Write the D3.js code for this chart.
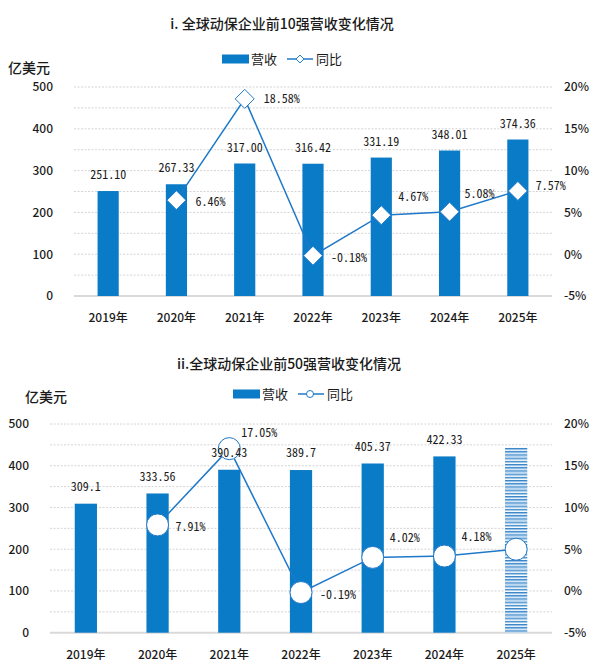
<!DOCTYPE html>
<html><head><meta charset="utf-8">
<script src="https://cdn.jsdelivr.net/npm/d3@7"></script>
<style>
html,body{margin:0;padding:0;background:#fff;}
svg{display:block;}
</style></head>
<body>
<svg id="c" width="600" height="665"></svg>
<script>
// ---- data ----
const years = ["2019年","2020年","2021年","2022年","2023年","2024年","2025年"];
const leftTicks = [0,100,200,300,400,500];
const gridTicks = [0,50,100,150,200,250,300,350,400,450,500];
const rightTicks = [-5,0,5,10,15,20];

const top10Revenue = [251.10, 267.33, 317.00, 316.42, 331.19, 348.01, 374.36];
const top10RevenueLabels = ["251.10","267.33","317.00","316.42","331.19","348.01","374.36"];
const top10Growth = [null, 6.46, 18.58, -0.18, 4.67, 5.08, 7.57];
const top10GrowthLabels = ["", "6.46%", "18.58%", "-0.18%", "4.67%", "5.08%", "7.57%"];

const top50Revenue = [309.1, 333.56, 390.43, 389.7, 405.37, 422.33, 444];
const top50RevenueLabels = ["309.1","333.56","390.43","389.7","405.37","422.33",""];
const top50Growth = [null, 7.91, 17.05, -0.19, 4.02, 4.18, 5.0];
const top50GrowthLabels = ["", "7.91%", "17.05%", "-0.19%", "4.02%", "4.18%", ""];
const top50Forecast = [false,false,false,false,false,false,true];

// label nudges (layout only)
const top10GrowthNudge = [[0,0],[19,2],[19,0],[18,2],[17,-18],[15,-18],[18,-5]];
const top50GrowthNudge = [[0,0],[18,2],[12,-16],[19,2],[17,-20],[17,-19],[0,0]];

const BLUE = "#0a7bc7";
const LINE = "#1f78c8";
const TXT = "#1a1a1a";
const CJK = "'Noto Sans CJK SC','Noto Sans',sans-serif";
const MONO = "'Noto Sans Mono CJK SC','DejaVu Sans Mono',monospace";

const svg = d3.select("#c");
const defs = svg.append("defs");
const pat = defs.append("pattern").attr("id","stripe").attr("patternUnits","userSpaceOnUse")
  .attr("width",10).attr("height",3.2);
pat.append("rect").attr("width",10).attr("height",3.2).attr("fill","#ffffff");
pat.append("rect").attr("width",10).attr("height",1.3).attr("fill","#2f80c6");
pat.append("rect").attr("y",1.3).attr("width",10).attr("height",1.0).attr("fill","#a8cdec");

function drawChart(o){
  const g = svg.append("g");
  const x = d3.scaleBand().domain(years).range([o.left,o.right]).paddingInner(0.69).paddingOuter(0.345);
  const y = d3.scaleLinear().domain([0,500]).range([o.bottom,o.top]);
  const y2 = d3.scaleLinear().domain([-5,20]).range([o.bottom,o.top]);
  const cx = d => x(d)+x.bandwidth()/2;

  // title
  g.append("text").attr("x",o.titleX).attr("y",o.titleY).attr("dy","0.35em")
    .attr("text-anchor","middle").attr("font-family",CJK).attr("font-size",14).attr("font-weight",500)
    .attr("fill",TXT).text(o.title);
  // unit
  g.append("text").attr("x",o.unitX).attr("y",o.unitY).attr("dy","0.35em")
    .attr("font-family",CJK).attr("font-size",14).attr("font-weight",500).attr("fill",TXT).text("亿美元");

  // legend
  const lg = g.append("g");
  lg.append("rect").attr("x",o.legX).attr("y",o.legY-4.5).attr("width",27).attr("height",9).attr("fill",BLUE);
  lg.append("text").attr("x",o.legX+29).attr("y",o.legY).attr("dy","0.35em").attr("font-family",CJK)
    .attr("font-size",13).attr("fill",TXT).text("营收");
  const lx = o.legX+65;
  lg.append("line").attr("x1",lx).attr("x2",lx+26).attr("y1",o.legY).attr("y2",o.legY)
    .attr("stroke",LINE).attr("stroke-width",1.5);
  if(o.marker==="diamond"){
    lg.append("path").attr("d",d3.symbol(d3.symbolDiamond2, 40)()).attr("transform",`translate(${lx+13},${o.legY})`)
      .attr("fill","#fff").attr("stroke",LINE).attr("stroke-width",1);
  } else {
    lg.append("circle").attr("cx",lx+12).attr("cy",o.legY).attr("r",3.5).attr("fill","#fff").attr("stroke",LINE).attr("stroke-width",1);
  }
  lg.append("text").attr("x",lx+29).attr("y",o.legY).attr("dy","0.35em").attr("font-family",CJK)
    .attr("font-size",13).attr("fill",TXT).text("同比");

  // grid
  g.append("g").selectAll("line").data(gridTicks.filter(v=>v>0)).join("line")
    .attr("x1",o.gridLeft).attr("x2",o.right).attr("y1",d=>y(d)).attr("y2",d=>y(d))
    .attr("stroke","#d4d4d4").attr("stroke-width",1).attr("stroke-dasharray","2,1.5");
  g.append("line").attr("x1",o.gridLeft).attr("x2",o.right).attr("y1",y(0)).attr("y2",y(0))
    .attr("stroke","#d9d9d9").attr("stroke-width",2);

  // left axis
  const ax = g.append("g").attr("transform",`translate(${o.leftLabelX},0)`)
    .call(d3.axisLeft(y).tickValues(leftTicks).tickSize(0).tickPadding(0).tickFormat(d3.format("d")));
  ax.select(".domain").remove();
  ax.selectAll("text").attr("font-family",CJK).attr("font-size",12).attr("font-weight",500).attr("fill",TXT);
  // right axis
  const ax2 = g.append("g").attr("transform",`translate(${o.rightLabelX},0)`)
    .call(d3.axisRight(y2).tickValues(rightTicks).tickSize(0).tickPadding(0).tickFormat(d=>d+"%"));
  ax2.select(".domain").remove();
  ax2.selectAll("text").attr("font-family",CJK).attr("font-size",12).attr("font-weight",500).attr("fill",TXT);
  // x axis
  const ax3 = g.append("g").attr("transform",`translate(0,${o.xLabelY})`)
    .call(d3.axisBottom(x).tickSize(0).tickPadding(0));
  ax3.select(".domain").remove();
  ax3.selectAll("text").attr("dy","0.35em").attr("font-family",CJK).attr("font-size",12).attr("font-weight",500).attr("fill",TXT);

  // bars
  g.append("g").selectAll("rect").data(years).join("rect")
    .attr("x",d=>x(d)).attr("width",x.bandwidth())
    .attr("y",(d,i)=>y(o.revenue[i])).attr("height",(d,i)=>y(0)-y(o.revenue[i]))
    .attr("fill",(d,i)=> o.forecast && o.forecast[i] ? "url(#stripe)" : BLUE);

  // line
  const pts = years.map((d,i)=>({d,i,v:o.growth[i]})).filter(p=>p.v!==null);
  g.append("path").datum(pts).attr("fill","none").attr("stroke",LINE).attr("stroke-width",1.5)
    .attr("d",d3.line().x(p=>cx(p.d)).y(p=>y2(p.v)));
  const mk = g.append("g").selectAll("g").data(pts).join("g")
    .attr("transform",p=>`translate(${cx(p.d)},${y2(p.v)})`);
  if(o.marker==="diamond"){
    mk.append("path").attr("d",d3.symbol(d3.symbolDiamond2, 230)()).attr("fill","#fff").attr("stroke",LINE).attr("stroke-width",1);
  } else {
    mk.append("circle").attr("r",11).attr("fill","#fff").attr("stroke",LINE).attr("stroke-width",1);
  }

  // bar labels
  g.append("g").selectAll("text").data(years).join("text")
    .attr("x",d=>cx(d)).attr("y",(d,i)=>y(o.revenue[i])-o.barLabelGap).attr("dy","0.35em")
    .attr("text-anchor","middle").attr("font-family",MONO).attr("font-size",12).attr("font-weight",500).attr("fill",TXT)
    .text((d,i)=>o.revenueLabels[i]);
  // growth labels
  g.append("g").selectAll("text").data(pts).join("text")
    .attr("x",p=>cx(p.d)+o.nudge[p.i][0]).attr("y",p=>y2(p.v)+o.nudge[p.i][1]).attr("dy","0.35em")
    .attr("font-family",MONO).attr("font-size",12).attr("font-weight",500).attr("fill",TXT)
    .text(p=>o.growthLabels[p.i]);
}

drawChart({
  title:"i. 全球动保企业前10强营收变化情况", titleX:282, titleY:24,
  unitX:8, unitY:68, legX:222, legY:59, marker:"diamond",
  left:74, gridLeft:74, right:552, top:87, bottom:296,
  leftLabelX:53, rightLabelX:564, xLabelY:318, barLabelGap:16,
  revenue:top10Revenue, revenueLabels:top10RevenueLabels,
  growth:top10Growth, growthLabels:top10GrowthLabels, nudge:top10GrowthNudge
});
drawChart({
  title:"ii.全球动保企业前50强营收变化情况", titleX:289, titleY:364,
  unitX:25, unitY:397, legX:233, legY:394, marker:"circle",
  left:50, gridLeft:50, right:552, top:424, bottom:632.7,
  leftLabelX:29, rightLabelX:564, xLabelY:655, barLabelGap:17,
  revenue:top50Revenue, revenueLabels:top50RevenueLabels,
  growth:top50Growth, growthLabels:top50GrowthLabels, nudge:top50GrowthNudge,
  forecast:top50Forecast
});
</script>
</body></html>
